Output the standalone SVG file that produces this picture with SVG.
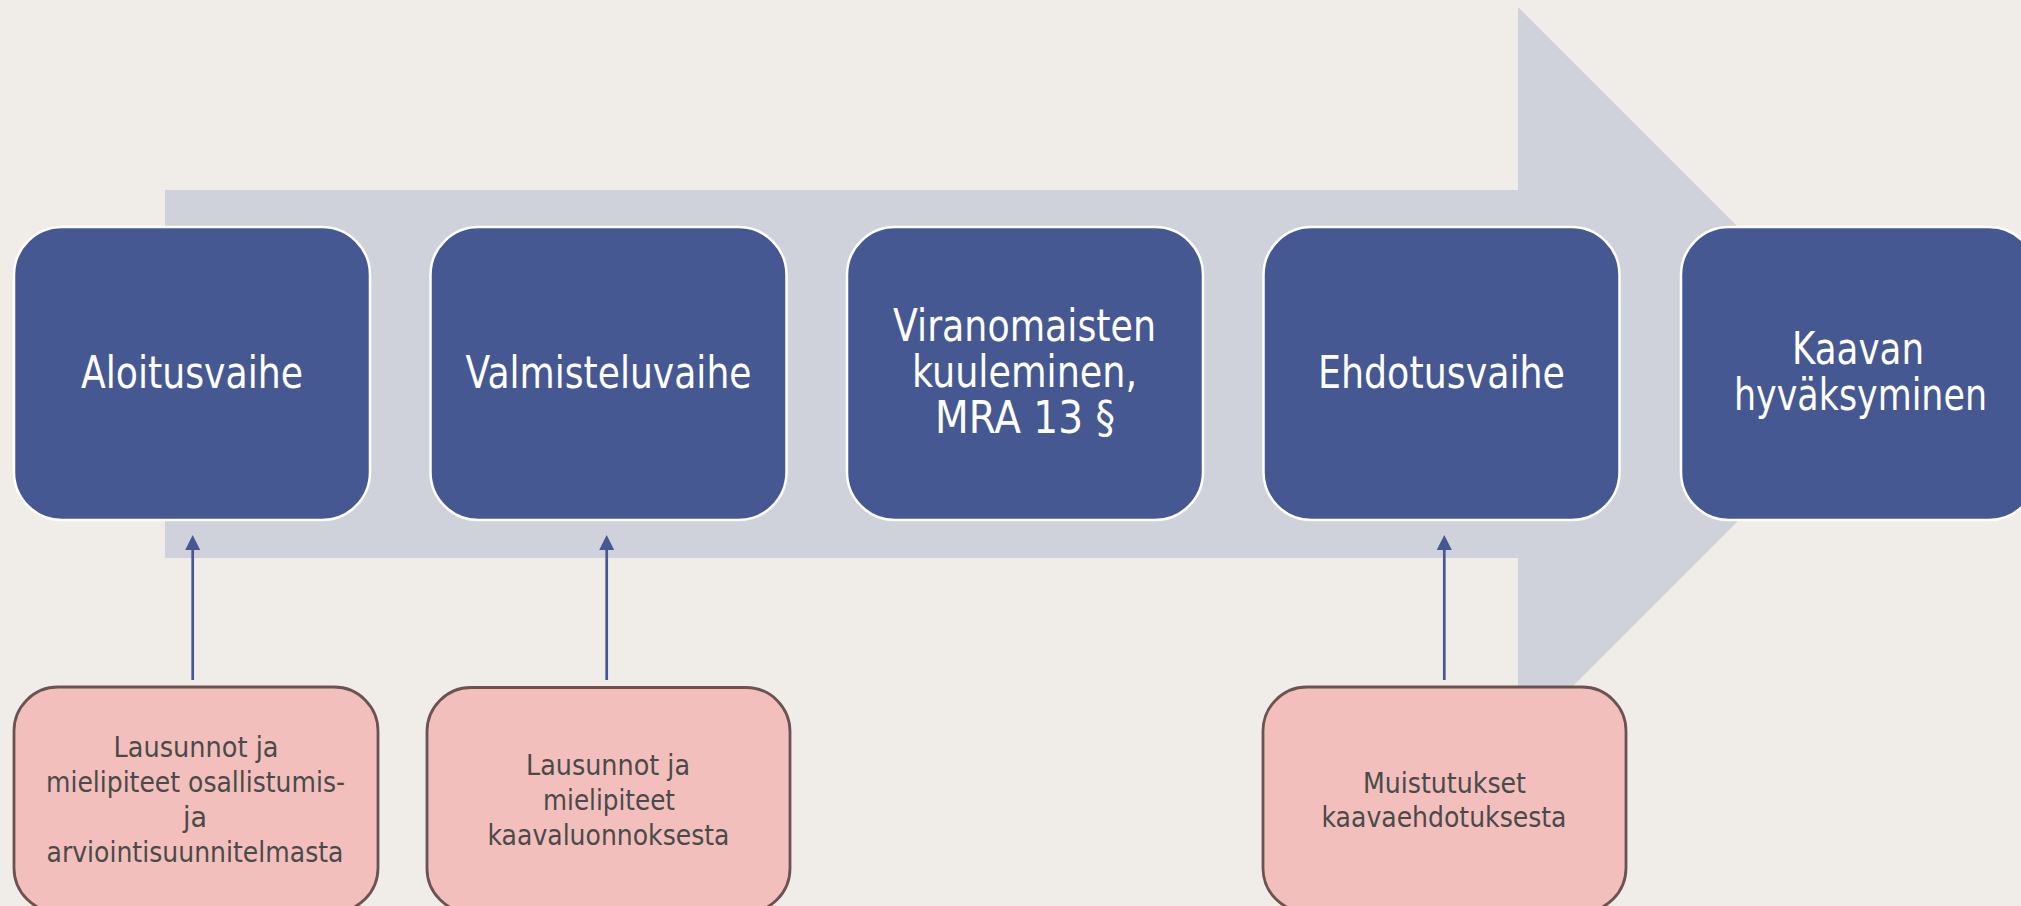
<svg xmlns="http://www.w3.org/2000/svg" width="2021" height="906" viewBox="0 0 2021 906">
  <style>
    .phase rect { fill: #465892; stroke: #ffffff; stroke-width: 2.5; }
    .phase text { fill: #ffffff; font-family: "DejaVu Sans", Verdana, sans-serif; font-size: 44px; text-anchor: middle; }
    .input rect { fill: #F3BFBC; stroke: #6B5352; stroke-width: 2.8; }
    .input text { fill: #4A4A4A; font-family: "DejaVu Sans", Verdana, sans-serif; font-size: 28px; text-anchor: middle; }
    .conn line { stroke: #465892; stroke-width: 2.7; fill: none; }
  </style>
  <defs>
    <marker id="head" markerUnits="userSpaceOnUse" markerWidth="16" markerHeight="16" refX="0" refY="7.5" orient="auto">
      <path d="M0,0 L15,7.5 L0,15 Z" fill="#465892"/>
    </marker>
  </defs>

  <rect x="0" y="0" width="2021" height="906" fill="#F0EDE8"/>

  <polygon id="process-arrow" points="165,190 1518,190 1518,7 1885,374 1518,741 1518,558 165,558" fill="#CFD2DB"/>

  <g id="phase-aloitusvaihe" class="phase">
    <rect x="14" y="227" width="356" height="293" rx="48" ry="48"/>
    <text x="192" y="388" textLength="222" lengthAdjust="spacingAndGlyphs">Aloitusvaihe</text>
  </g>
  <g id="phase-valmisteluvaihe" class="phase">
    <rect x="430.5" y="227" width="356" height="293" rx="48" ry="48"/>
    <text x="608.5" y="388" textLength="286" lengthAdjust="spacingAndGlyphs">Valmisteluvaihe</text>
  </g>
  <g id="phase-viranomaisten" class="phase">
    <rect x="847" y="227" width="356" height="293" rx="48" ry="48"/>
    <text x="1024.5" y="341" textLength="263" lengthAdjust="spacingAndGlyphs">Viranomaisten</text>
    <text x="1024.5" y="387" textLength="225" lengthAdjust="spacingAndGlyphs">kuuleminen,</text>
    <text x="1025" y="433" textLength="180" lengthAdjust="spacingAndGlyphs">MRA 13 §</text>
  </g>
  <g id="phase-ehdotusvaihe" class="phase">
    <rect x="1263.5" y="227" width="356" height="293" rx="48" ry="48"/>
    <text x="1441.5" y="388" textLength="247" lengthAdjust="spacingAndGlyphs">Ehdotusvaihe</text>
  </g>
  <g id="phase-hyvaksyminen" class="phase">
    <rect x="1681" y="227" width="356" height="293" rx="48" ry="48"/>
    <text x="1858" y="364" textLength="132" lengthAdjust="spacingAndGlyphs">Kaavan</text>
    <text x="1860.5" y="410" textLength="253" lengthAdjust="spacingAndGlyphs">hyväksyminen</text>
  </g>

  <g id="input-osallistumis" class="input">
    <rect x="14" y="687" width="364" height="225" rx="44" ry="44"/>
    <text x="196" y="757" textLength="165" lengthAdjust="spacingAndGlyphs">Lausunnot ja</text>
    <text x="195.5" y="792" textLength="299" lengthAdjust="spacingAndGlyphs">mielipiteet osallistumis-</text>
    <text x="195" y="827" textLength="24" lengthAdjust="spacingAndGlyphs">ja</text>
    <text x="195" y="862" textLength="297" lengthAdjust="spacingAndGlyphs">arviointisuunnitelmasta</text>
  </g>
  <g id="input-luonnos" class="input">
    <rect x="427" y="687.5" width="363" height="225" rx="44" ry="44"/>
    <text x="608" y="775" textLength="164" lengthAdjust="spacingAndGlyphs">Lausunnot ja</text>
    <text x="609" y="810" textLength="132" lengthAdjust="spacingAndGlyphs">mielipiteet</text>
    <text x="608.5" y="845" textLength="242" lengthAdjust="spacingAndGlyphs">kaavaluonnoksesta</text>
  </g>
  <g id="input-muistutukset" class="input">
    <rect x="1263" y="687" width="363" height="225" rx="44" ry="44"/>
    <text x="1444.5" y="793" textLength="163" lengthAdjust="spacingAndGlyphs">Muistutukset</text>
    <text x="1444" y="827" textLength="245" lengthAdjust="spacingAndGlyphs">kaavaehdotuksesta</text>
  </g>

  <g id="connectors" class="conn">
    <line x1="192.7" y1="680" x2="192.7" y2="550" marker-end="url(#head)"/>
    <line x1="606.7" y1="680" x2="606.7" y2="550" marker-end="url(#head)"/>
    <line x1="1444.3" y1="680" x2="1444.3" y2="550" marker-end="url(#head)"/>
  </g>
</svg>
